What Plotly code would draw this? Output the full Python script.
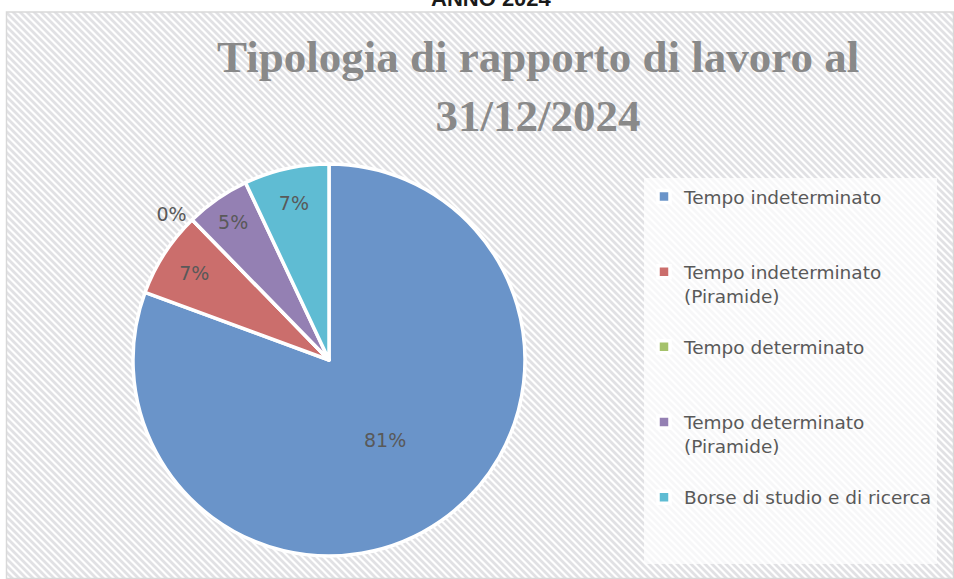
import base64
import plotly.graph_objects as go

# ---------------- data ----------------
categories = [
    "Tempo indeterminato",
    "Tempo indeterminato (Piramide)",
    "Tempo determinato",
    "Tempo determinato (Piramide)",
    "Borse di studio e di ricerca",
]
legend_labels = [
    "Tempo indeterminato<br> <br> ",
    "Tempo indeterminato<br>(Piramide)<br> ",
    "Tempo determinato<br> <br> ",
    "Tempo determinato<br>(Piramide)<br> ",
    "Borse di studio e di ricerca<br> <br> ",
]
shares = [80.6, 7.1, 0.0, 5.3, 7.0]
slice_colors = ["#6a94c9", "#cb6e6c", "#a5c26b", "#9480b3", "#5fbcd3"]
text_positions = ["inside", "inside", "outside", "inside", "inside"]

title_text = "<b>Tipologia di rapporto di lavoro al<br>31/12/2024</b>"
top_text = "<b>ANNO 2024</b>"

W, H = 954, 579


def px(x):
    return x / W


def py(y):
    return 1 - y / H


# background hatch pattern (decorative texture)
pat_w, pat_h = W - 6, H - 12
svg = (
    f"<svg xmlns='http://www.w3.org/2000/svg' width='{pat_w}' height='{pat_h}' "
    f"viewBox='0 0 {pat_w} {pat_h}' preserveAspectRatio='none'>"
    "<defs><pattern id='p' width='7' height='7' patternUnits='userSpaceOnUse'>"
    "<rect width='7' height='7' fill='#ffffff'/>"
    "<path d='M-2,-2 L9,9 M-2,5 L2,9 M5,-2 L9,2' stroke='#e1e1e4' stroke-width='2.8'/>"
    "</pattern></defs>"
    f"<rect width='{pat_w}' height='{pat_h}' fill='url(#p)'/></svg>"
)
svg_uri = "data:image/svg+xml;base64," + base64.b64encode(svg.encode()).decode()

cx, cy, r = 329, 360, 196

fig = go.Figure()
fig.add_trace(go.Pie(
    labels=legend_labels,
    values=shares,
    customdata=categories,
    sort=False,
    direction="clockwise",
    rotation=0,
    marker=dict(colors=slice_colors, line=dict(color="white", width=3.5)),
    texttemplate="%{percent:.0%}",
    textposition=text_positions,
    insidetextorientation="horizontal",
    textfont=dict(family="DejaVu Sans", size=19, color="#595959"),
    hovertemplate="%{customdata}: %{percent}<extra></extra>",
    domain=dict(x=[px(cx - r), px(cx + r)], y=[py(cy + r), py(cy - r)]),
    showlegend=True,
))

fig.update_layout(
    width=W, height=H,
    margin=dict(l=0, r=0, t=0, b=0),
    paper_bgcolor="white",
    plot_bgcolor="rgba(0,0,0,0)",
    images=[dict(source=svg_uri, xref="paper", yref="paper",
                 x=px(6), y=py(12), sizex=pat_w / W, sizey=pat_h / H,
                 xanchor="left", yanchor="top", sizing="stretch", layer="below")],
    shapes=[dict(type="rect", xref="paper", yref="paper",
                 x0=px(6.5), x1=px(953.5), y0=py(578.5), y1=py(12),
                 line=dict(color="#d9d9d9", width=1.5))],
    legend=dict(x=px(644), y=py(178), xanchor="left", yanchor="top",
                bgcolor="rgba(255,255,255,0.72)", borderwidth=0,
                valign="top",
                font=dict(family="DejaVu Sans", size=18.5, color="#595959")),
    annotations=[
        dict(text=title_text, x=px(538), y=py(87), xref="paper", yref="paper",
             xanchor="center", yanchor="middle", showarrow=False,
             font=dict(family="Liberation Serif", size=45, color="#898989")),
        dict(text=top_text, x=px(491), y=py(-1.5), xref="paper", yref="paper",
             xanchor="center", yanchor="middle", showarrow=False,
             font=dict(family="Liberation Sans", size=22, color="#1a1a1a")),
    ],
)

fig.write_html("out.html", config={"displayModeBar": False},
               post_script="document.body.style.margin='0';")
